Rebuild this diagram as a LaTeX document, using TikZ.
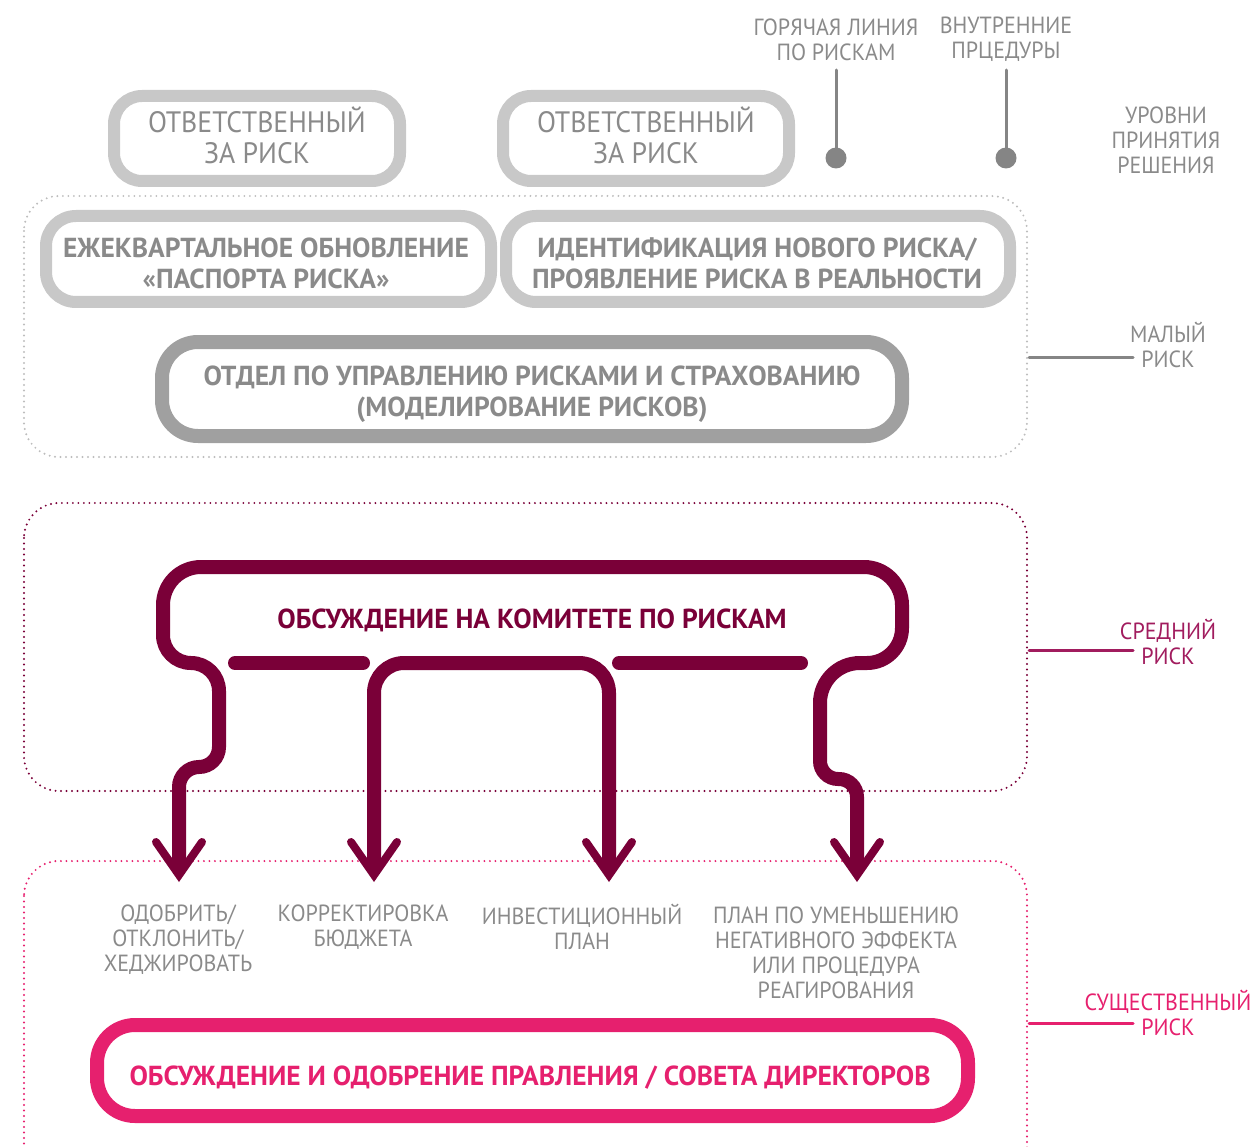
\documentclass[tikz,border=0pt]{standalone}
\usepackage{fontspec}
\setmainfont[FakeStretch=0.94]{PT Sans}
\newfontfamily\bfam{PT Sans}
\usetikzlibrary{calc}
\definecolor{lgray}{HTML}{C8C8C8}
\definecolor{mgray}{HTML}{A0A0A0}
\definecolor{tgray}{HTML}{8A8A8A}
\definecolor{dgray}{HTML}{858585}
\definecolor{dotgray}{HTML}{BDBDBD}
\definecolor{maroon}{HTML}{7A0038}
\definecolor{midrisk}{HTML}{A11C5E}
\definecolor{pink}{HTML}{E6206E}
\begin{document}
\begin{tikzpicture}[x=1pt,y=-1pt,
  smalltxt/.style={align=center, text=tgray, inner sep=0pt, font=\fontsize{23.4}{25}\selectfont},
  regtxt/.style={inner sep=0pt, align=center, text=tgray, font=\fontsize{29.5}{31}\selectfont},
  boldtxt/.style={inner sep=0pt, align=center, text=tgray, font=\bfam\bfseries\fontsize{27.5}{31}\selectfont},
  frame/.style={draw=lgray, line width=12pt, rounded corners=30pt},
  dotbox/.style={line width=2.2pt, line cap=round, dash pattern=on 0pt off 5.5pt, rounded corners=35pt},
  lev/.style={draw=dgray, line width=3pt, line cap=round},
  mar/.style={draw=maroon, line width=14pt},
  vhead/.style={draw=maroon, line width=8pt, line join=miter, line cap=round},
  legline/.style={line width=3pt, line cap=round}]
\useasboundingbox (0,0) rectangle (1257,1147);
\clip (0,0) rectangle (1257,1147);

% dotted level frames
\draw[dotbox, draw=dotgray] (24,196) rectangle (1027,457);
\draw[dotbox, draw=maroon] (24,503) rectangle (1027,791);
\draw[dotbox, draw=pink] (24,861) rectangle (1027,1220);

% top: responsible boxes
\draw[frame, rounded corners=28pt] (114,96) rectangle (400,181);
\draw[frame, rounded corners=28pt] (503,96) rectangle (789,181);
\node[regtxt] (own1) at (257,135.5) {ОТВЕТСТВЕННЫЙ\\ЗА РИСК};
\node[regtxt] (own2) at (646,135.5) {ОТВЕТСТВЕННЫЙ\\ЗА РИСК};

% hotline / internal procedures
\node[smalltxt] (hot) at (836,39.5) {ГОРЯЧАЯ ЛИНИЯ\\ПО РИСКАМ};
\node[smalltxt] (proc) at (1006,39.5) {ВНУТРЕННИЕ\\ПРЦЕДУРЫ};
\coordinate (hotTop) at (836,70);
\coordinate (procTop) at (1006,70);
\node[circle, fill=dgray, inner sep=0pt, minimum size=21pt] (hotDot) at (836,158) {};
\node[circle, fill=dgray, inner sep=0pt, minimum size=21pt] (procDot) at (1006,158) {};
\draw[lev] (hotTop) -- (hotDot.center);
\draw[lev] (procTop) -- (procDot.center);

\node[smalltxt] (levels) at (1166,140) {УРОВНИ\\ПРИНЯТИЯ\\РЕШЕНИЯ};

% small risk boxes
\draw[frame] (46,216) rectangle (491,302);
\draw[frame] (506,216) rectangle (1010,302);
\draw[frame, draw=mgray, line width=14pt, rounded corners=36pt] (162,342) rectangle (902,436);
\node[boldtxt] (quarter) at (266,263) {ЕЖЕКВАРТАЛЬНОЕ ОБНОВЛЕНИЕ\\«ПАСПОРТА РИСКА»};
\node[boldtxt] (ident) at (757,263) {ИДЕНТИФИКАЦИЯ НОВОГО РИСКА/\\ПРОЯВЛЕНИЕ РИСКА В РЕАЛЬНОСТИ};
\node[boldtxt] (dept) at (532,394) {ОТДЕЛ ПО УПРАВЛЕНИЮ РИСКАМИ И СТРАХОВАНИЮ\\(МОДЕЛИРОВАНИЕ РИСКОВ)};

% legend
\node[smalltxt] (small) at (1168,344.5) {МАЛЫЙ\\РИСК};
\coordinate (sA) at (1029,357); \coordinate (sB) at (1133,357);
\draw[legline, draw=dgray] (sA) -- (sB);
\node[smalltxt, text=midrisk] (mid) at (1168,641.5) {СРЕДНИЙ\\РИСК};
\coordinate (mA) at (1029,650); \coordinate (mB) at (1133,650);
\draw[legline, draw=midrisk] (mA) -- (mB);
\node[smalltxt, text=pink] (big) at (1168,1012.5) {СУЩЕСТВЕННЫЙ\\РИСК};
\coordinate (bA) at (1029,1023); \coordinate (bB) at (1133,1023);
\draw[legline, draw=pink] (bA) -- (bB);

% committee
\node[boldtxt, text=maroon] (com) at (532,620) {ОБСУЖДЕНИЕ НА КОМИТЕТЕ ПО РИСКАМ};
\coordinate (t1) at (179,875);
\coordinate (t2) at (374,875);
\coordinate (t3) at (609,875);
\coordinate (t4) at (857,875);
\draw[mar] ($(t1)+(0,-7)$) [rounded corners=20pt] -- (179,767) -- (219,767) [rounded corners=28pt] -- (219,663) -- (163,663) [rounded corners=38pt] -- (163,567) -- (902,567) [rounded corners=35pt] -- (902,663) [rounded corners=40pt] -- (820,663) [rounded corners=18pt] -- (820,779) -- (857,779) -- ($(t4)+(0,-7)$);
\draw[mar, rounded corners=30pt] ($(t2)+(0,-7)$) -- (374,663) -- (609,663) -- ($(t3)+(0,-7)$);
\draw[mar, line cap=round] (235,663) -- (363,663);
\draw[mar, line cap=round] (619,663) -- (801,663);
\foreach \t in {t1,t2,t3,t4}{
  \draw[vhead] ($(\t)+(-23,-33)$) -- (\t) -- ($(\t)+(23,-33)$);
}

% outcomes
\node[smalltxt] (o1) at (178,940) {ОДОБРИТЬ/\\ОТКЛОНИТЬ/\\ХЕДЖИРОВАТЬ};
\node[smalltxt] (o2) at (363,927.5) {КОРРЕКТИРОВКА\\БЮДЖЕТА};
\node[smalltxt] (o3) at (582,927) {ИНВЕСТИЦИОННЫЙ\\ПЛАН};
\node[smalltxt] (o4) at (836,952.5) {ПЛАН ПО УМЕНЬШЕНИЮ\\НЕГАТИВНОГО ЭФФЕКТА\\ИЛИ ПРОЦЕДУРА\\РЕАГИРОВАНИЯ};

% board
\draw[frame, draw=pink, line width=14pt, rounded corners=38pt] (97,1025) rectangle (968,1116);
\node[boldtxt, text=pink] (board) at (530,1078) {ОБСУЖДЕНИЕ И ОДОБРЕНИЕ ПРАВЛЕНИЯ / СОВЕТА ДИРЕКТОРОВ};
\end{tikzpicture}
\end{document}
